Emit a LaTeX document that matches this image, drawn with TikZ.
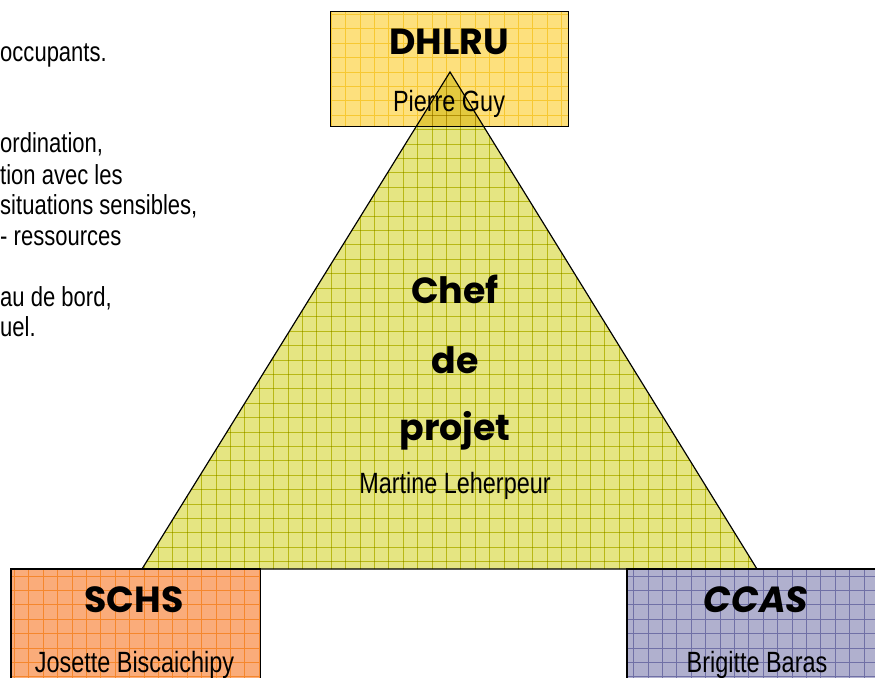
\documentclass[tikz,border=0pt]{standalone}
\usepackage{fontspec}
\usepackage{xcolor}
\usepackage{tikz}
\usetikzlibrary{positioning}
\setmainfont{Liberation Sans}[FakeStretch=0.8]
\newfontfamily\headfont{Poppins}
\definecolor{dhlruyellow}{RGB}{253,224,125}
\definecolor{dhlrugrid}{RGB}{247,200,50}
\definecolor{chefyellow}{RGB}{229,229,130}
\definecolor{chefgrid}{RGB}{205,205,45}
\definecolor{schsorange}{RGB}{250,172,122}
\definecolor{schsgrid}{RGB}{245,135,45}
\definecolor{ccasblue}{RGB}{176,176,206}
\definecolor{ccasgrid}{RGB}{112,112,166}
% squared paper lines, one every 14.4 units
\newcommand{\paperlines}[1]{%
  \foreach \gx in {0,14.4,...,880} {\draw[#1, line width=0.6pt] (\gx,0) -- (\gx,700);}
  \foreach \gy in {0,14.4,...,700} {\draw[#1, line width=0.6pt] (0,\gy) -- (880,\gy);}}

\begin{document}
\begin{tikzpicture}[x=0.03cm, y=-0.03cm,
    boxfill/.style={fill=#1, inner sep=0pt},
    boxline/.style={draw=black, line width=1.2pt},
    title/.style={font=\headfont\bfseries\fontsize{31}{31}\selectfont, anchor=base, inner sep=0pt},
    person/.style={font=\fontsize{25}{25}\selectfont, anchor=base, inner sep=0pt},
    note/.style={font=\fontsize{23.5}{23.5}\selectfont, anchor=base west, inner sep=0pt}]
        \useasboundingbox (0,0) rectangle (875,677);

        % Notes on the left (cut off)
        \node[note] (occupants) at (0,62) {occupants.};
        \node[note] (ordination) at (0,153) {ordination,};
        \node[note] (avecles) at (0,184) {tion avec les};
        \node[note] (sensibles) at (0,214) {situations sensibles,};
        \node[note] (ressources) at (0,245) {- ressources};
        \node[note] (bord) at (0,306) {au de bord,};
        \node[note] (uel) at (0,336) {uel.};

        % DHLRU
        \node[boxfill=dhlruyellow, minimum width=7.11cm, minimum height=3.42cm] (dhlru) at (449.5,69) {};
        \begin{scope}
            \clip (dhlru.south west) rectangle (dhlru.north east);
            \paperlines{dhlrugrid}
        \end{scope}
        \draw[boxline] (dhlru.south west) rectangle (dhlru.north east);
        \node[title] (dhlrutitle) at (449,55) {DHLRU};
        \node[person] (pierre) at (449,112) {Pierre Guy};

        % Chef de projet (triangle)
        \coordinate (apex) at (450,72);
        \coordinate (baseleft) at (142,569);
        \coordinate (baseright) at (757,569);
        \begin{scope}[blend mode=multiply]
            \fill[chefyellow] (apex) -- (baseleft) -- (baseright) -- cycle;
            \begin{scope}
                \clip (apex) -- (baseleft) -- (baseright) -- cycle;
                \paperlines{chefgrid}
            \end{scope}
            \draw[black, line width=1pt] (apex) -- (baseleft) -- (baseright) -- cycle;
        \end{scope}
        \node[title] (chef) at (455,303) {Chef};
        \node[title] (de) at (455,373) {de};
        \node[title] (projet) at (455,440) {projet};
        \node[person] (martine) at (455,493) {Martine Leherpeur};

        % SCHS
        \node[boxfill=schsorange, minimum width=7.47cm, minimum height=4.5cm, anchor=north west] (schs) at (11,569) {};
        \begin{scope}
            \clip (schs.south west) rectangle (schs.north east);
            \paperlines{schsgrid}
        \end{scope}
        \draw[boxline] (schs.south west) rectangle (schs.north east);
        \node[title] (schstitle) at (134,612) {SCHS};
        \node[person] (josette) at (134.5,672) {Josette Biscaichipy};

        % CCAS
        \node[boxfill=ccasblue, minimum width=7.77cm, minimum height=4.5cm, anchor=north west] (ccas) at (627,569) {};
        \begin{scope}
            \clip (ccas.south west) rectangle (ccas.north east);
            \paperlines{ccasgrid}
        \end{scope}
        \draw[boxline] (ccas.south west) rectangle (ccas.north east);
        \node[title, font=\headfont\bfseries\itshape\fontsize{31}{31}\selectfont] (ccastitle) at (756,612) {CCAS};
        \node[person] (brigitte) at (757,672) {Brigitte Baras};
    \end{tikzpicture}
\end{document}
